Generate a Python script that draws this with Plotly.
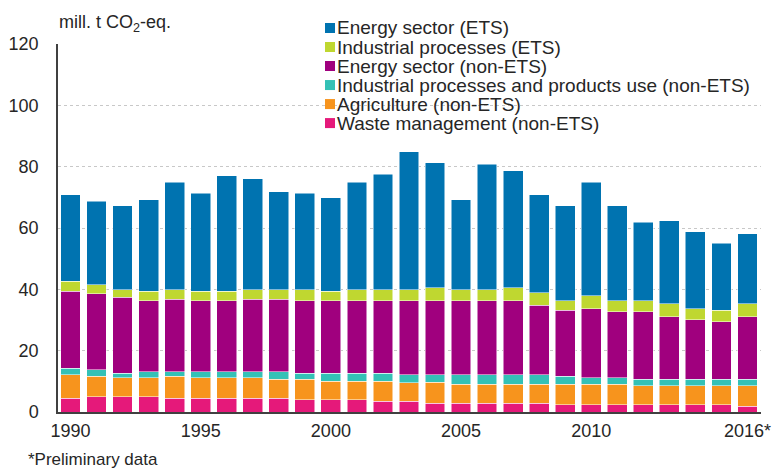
import plotly.graph_objects as go

years = [str(y) for y in range(1990, 2016)] + ["2016*"]
tick_labels = ["1990", "1995", "2000", "2005", "2010", "2016*"]

series_names = [
    "Waste management (non-ETS)",
    "Agriculture (non-ETS)",
    "Industrial processes and products use (non-ETS)",
    "Energy sector (non-ETS)",
    "Industrial processes (ETS)",
    "Energy sector (ETS)",
]

waste = [4.5, 5.0, 5.0, 5.0, 4.5, 4.5, 4.5, 4.5, 4.5, 4.0, 4.0, 4.0, 3.5, 3.5,
         2.8, 2.8, 2.8, 2.8, 2.8, 2.4, 2.4, 2.4, 2.4, 2.4, 2.4, 2.4, 1.8]
agriculture = [7.6, 6.7, 6.2, 6.2, 7.2, 6.7, 6.7, 6.7, 6.1, 6.6, 6.1, 6.1, 6.6, 6.1,
               6.9, 6.3, 6.3, 6.3, 6.3, 6.7, 6.7, 6.7, 6.2, 6.2, 6.2, 6.2, 6.8]
ippu_non_ets = [2.2, 2.1, 1.5, 2.0, 1.5, 2.0, 2.0, 2.0, 2.6, 2.1, 2.6, 2.6, 2.6, 2.6,
                2.5, 3.1, 3.1, 3.1, 3.1, 2.6, 2.1, 2.1, 2.0, 2.0, 2.0, 2.0, 2.0]
energy_non_ets = [25.1, 24.7, 24.7, 23.1, 23.6, 23.1, 23.1, 23.6, 23.6, 23.6, 23.6, 23.6, 23.6, 24.1,
                  24.1, 24.1, 24.1, 24.1, 22.6, 21.4, 22.5, 21.5, 22.1, 20.5, 19.5, 18.9, 20.5]
industry_ets = [3.2, 3.0, 2.5, 3.0, 3.1, 3.0, 3.0, 3.1, 3.1, 3.6, 3.0, 3.6, 3.6, 3.6,
                4.2, 3.6, 3.6, 4.2, 4.1, 3.2, 4.2, 3.6, 3.6, 4.2, 3.6, 3.6, 4.2]
energy_ets = [28.3, 27.2, 27.3, 29.9, 35.1, 32.0, 37.8, 36.1, 31.9, 31.4, 30.5, 35.1, 37.7, 45.0,
              40.8, 29.3, 40.9, 38.2, 32.0, 30.9, 37.1, 30.9, 25.6, 27.1, 25.1, 22.0, 22.9]

series_values = [waste, agriculture, ippu_non_ets, energy_non_ets, industry_ets, energy_ets]
colors = ["#E5197A", "#F7941D", "#34C1B6", "#A0007E", "#BFD730", "#0073B0"]

FONT = "Liberation Sans, Arial, sans-serif"
TXT = "#262626"

fig = go.Figure()
for name, vals, col in zip(series_names, series_values, colors):
    fig.add_trace(go.Bar(x=years, y=vals, name=name, showlegend=False,
                         marker=dict(color=col, line=dict(color="white", width=0.5))))

# Page geometry (body margin removed by post_script, so figure fills the window)
W, H = 773, 468
plot_left, plot_right, plot_top, plot_bottom = 58, 761, 44, 411.6
ml, mr, mt, mb = plot_left, W - plot_right, plot_top, H - plot_bottom
pw, ph = W - ml - mr, H - mt - mb

def px_x(x):
    return (x - ml) / pw

def px_y(y):
    return (H - mb - y) / ph

annotations = [
    dict(text="mill. t CO<sub>2</sub>-eq.", x=px_x(57), y=px_y(24), xref="paper", yref="paper",
         xanchor="left", yanchor="middle", showarrow=False, font=dict(size=18, color=TXT, family=FONT)),
    dict(text="*Preliminary data", x=px_x(26), y=px_y(459), xref="paper", yref="paper",
         xanchor="left", yanchor="middle", showarrow=False, font=dict(size=17, color=TXT, family=FONT)),
]
shapes = [
    dict(type="rect", xref="paper", yref="paper", x0=px_x(312), x1=px_x(770), y0=px_y(136), y1=px_y(14),
         fillcolor="white", line=dict(width=0), layer="between"),
]
# custom legend (top: Energy sector (ETS) ... bottom: Waste management)
for i, (name, col) in enumerate(zip(series_names[::-1], colors[::-1])):
    cy = 28 + 19 * i
    shapes.append(dict(type="rect", xref="paper", yref="paper",
                       x0=px_x(325), x1=px_x(335), y0=px_y(cy + 5), y1=px_y(cy - 5),
                       fillcolor=col, line=dict(width=0), layer="above"))
    annotations.append(dict(text=name, x=px_x(335), y=px_y(cy), xref="paper", yref="paper",
                            xanchor="left", yanchor="middle", showarrow=False,
                            font=dict(size=19, color=TXT, family=FONT)))

fig.update_layout(
    width=W, height=H,
    margin=dict(l=ml, r=mr, t=mt, b=mb, autoexpand=False),
    barmode="stack", bargap=0.24,
    plot_bgcolor="white", paper_bgcolor="white",
    font=dict(family=FONT, size=18, color=TXT),
    showlegend=False,
    annotations=annotations,
    shapes=shapes,
    xaxis=dict(type="category", range=[-0.48, 26.52], tickvals=tick_labels, ticktext=tick_labels,
               showgrid=False, showline=True, linecolor="#404040", linewidth=1.5,
               ticks="", tickfont=dict(size=18, color=TXT), ticklabelstandoff=2,
               ticklabeloverflow="allow", automargin=False),
    yaxis=dict(range=[0, 120], tickvals=[0, 20, 40, 60, 80, 100, 120],
               showgrid=True, gridcolor="#C8C8C8", griddash="dot", gridwidth=1,
               showline=True, linecolor="#404040", linewidth=1.5, zeroline=False,
               ticks="", tickfont=dict(size=18, color=TXT), ticklabelstandoff=14, automargin=False),
)

fig.write_html("out.html", config={"displayModeBar": False},
               post_script="document.body.style.margin='0';document.documentElement.style.overflow='hidden';")
